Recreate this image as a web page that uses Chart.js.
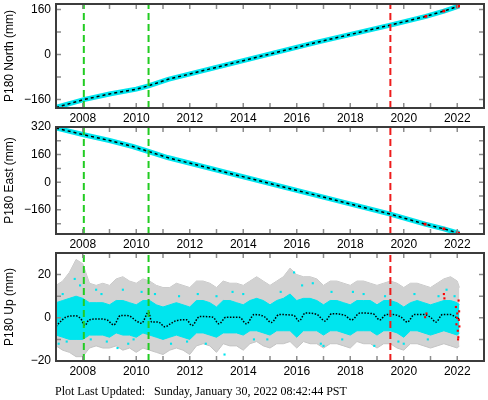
<!DOCTYPE html>
<html>
<head>
<meta charset="utf-8">
<script src="https://cdn.jsdelivr.net/npm/chart.js@4.4.1/dist/chart.umd.min.js"></script>
<style>
  body { margin: 0; background: #fff; width: 488px; height: 400px; position: relative; overflow: hidden; }
  canvas { position: absolute; left: 0; }
  #foot { position: absolute; left: 55px; top: 385px; font: 12px "Liberation Serif", serif; line-height: 13px; white-space: pre; color: #000; }
</style>
</head>
<body>
<canvas id="north" width="488" height="126" style="top:0"></canvas>
<canvas id="east" width="488" height="137" style="top:115px"></canvas>
<canvas id="up" width="488" height="138" style="top:241px"></canvas>
<div id="foot">Plot Last Updated:   Sunday, January 30, 2022 08:42:44 PST</div>
<script>
// x axis (decimal years)
const yearRange = [2007, 2023];
const yearTicks = [2007, 2008, 2009, 2010, 2011, 2012, 2013, 2014, 2015, 2016, 2017, 2018, 2019, 2020, 2021, 2022, 2023];
const greenEvents = [2008.04, 2010.46];
const redEvents = [2019.5];

// North
const northRange = [-190, 180];
const northTicks = [-160, -80, 0, 80, 160];
const northYears = [2007.0, 2008.04, 2009.0, 2010.0, 2010.46, 2011.19, 2016.81, 2019.5, 2020.83, 2021.5, 2022.08];
const northValues = [-188, -160, -140, -123, -111, -88, 45, 105, 136, 155, 173];
const northRedYears = [2020.83, 2021.5, 2022.0, 2022.05];
const northRedValues = [136, 155, 171, 173];

// East
const eastRange = [-300, 320];
const eastTicks = [-240, -160, -80, 0, 80, 160, 240, 320];
const eastYears = [2007.0, 2008.04, 2009.0, 2009.87, 2010.46, 2011.17, 2016.81, 2019.5, 2020.8, 2021.5, 2022.08];
const eastValues = [314, 275, 242, 207, 178, 143, -79, -185, -243, -270, -297];
const eastRedYears = [2020.8, 2021.5, 2022.0, 2022.05];
const eastRedValues = [-243, -270, -293, -296];

// Up
const upRange = [-20, 30];
const upTicks = [-20, -10, 0, 10, 20, 30];
const upYears = [2007.0, 2007.25, 2007.5, 2007.75, 2008.0, 2008.25, 2008.5, 2008.75, 2009.0, 2009.25, 2009.5, 2009.75,
  2010.0, 2010.25, 2010.5, 2010.75, 2011.0, 2011.25, 2011.5, 2011.75, 2012.0, 2012.25, 2012.5, 2012.75,
  2013.0, 2013.25, 2013.5, 2013.75, 2014.0, 2014.25, 2014.5, 2014.75, 2015.0, 2015.25, 2015.5, 2015.75,
  2016.0, 2016.25, 2016.5, 2016.75, 2017.0, 2017.25, 2017.5, 2017.75, 2018.0, 2018.25, 2018.5, 2018.75,
  2019.0, 2019.25, 2019.5, 2019.75, 2020.0, 2020.25, 2020.5, 2020.75, 2021.0, 2021.25, 2021.5, 2021.75,
  2022.0, 2022.08];
const upErrHigh = [15, 17, 21, 27, 25, 16, 15, 16, 15, 18, 19, 17,
  16, 18, 17, 15, 14, 14, 16, 15, 14, 17, 17, 16,
  14, 17, 16, 16, 15, 17, 19, 17, 15, 17, 19, 23,
  20, 19, 19, 18, 15, 17, 17, 16, 15, 17, 17, 16,
  15, 16, 17, 16, 14, 16, 16, 15, 14, 16, 18, 19,
  17, 14];
const upErrLow = [-13, -15, -16, -18, -18, -14, -13, -14, -14, -13, -15, -14,
  -16, -14, -15, -16, -17, -15, -14, -15, -17, -13, -12, -13,
  -16, -12, -13, -13, -15, -12, -11, -13, -14, -12, -12, -11,
  -14, -11, -12, -12, -14, -12, -12, -13, -14, -11, -12, -12,
  -14, -12, -12, -14, -15, -12, -12, -13, -14, -13, -12, -13,
  -14, -13];
const upCyanHigh = [7, 8, 9, 10, 9, 7, 7, 7, 6, 8, 8, 7,
  6, 8, 8, 6, 5, 6, 7, 6, 5, 8, 8, 7,
  5, 8, 8, 7, 6, 8, 9, 8, 6, 8, 9, 11,
  8, 9, 9, 8, 6, 8, 8, 7, 6, 8, 8, 8,
  6, 8, 8, 7, 5, 7, 8, 7, 6, 7, 8, 8,
  7, 6];
const upCyanLow = [-8, -9, -10, -10, -10, -8, -8, -8, -9, -7, -8, -8,
  -9, -7, -8, -9, -10, -9, -8, -9, -10, -7, -7, -8,
  -9, -7, -7, -7, -8, -6, -6, -7, -8, -6, -6, -6,
  -9, -6, -6, -6, -8, -6, -6, -7, -8, -6, -6, -6,
  -8, -6, -6, -7, -9, -6, -6, -7, -8, -7, -6, -7,
  -8, -7];
const upScatterYears = [2007.1, 2007.25, 2007.4, 2007.7, 2007.9, 2008.3, 2008.5, 2008.7, 2008.9, 2009.3, 2009.5, 2009.7,
  2009.9, 2010.2, 2010.7, 2011.3, 2011.6, 2011.9, 2012.3, 2012.6, 2013.0, 2013.3, 2013.6, 2014.0, 2014.4,
  2014.9, 2015.4, 2015.9, 2016.2, 2016.6, 2016.9, 2017.0, 2017.3, 2017.7, 2018.1, 2018.5, 2018.9, 2019.3,
  2019.8, 2020.0, 2020.4, 2020.9, 2021.3, 2021.6, 2021.9];
const upScatterValues = [-12, 11, -11, 18, 15, -10, 13, 11, -11, -14, 13, -12,
  -10, 12, 11, -12, 10, -11, 11, -12, 10, -17, 12, 11, -10,
  -10, 12, 21, 15, 16, -12, -13, 12, -10, 12, 11, -13, 10,
  -11, -12, 11, -10, 10, 13, 10];
const upMeanYears = [2007.0, 2007.15, 2007.37, 2007.74, 2007.93, 2008.08, 2008.23, 2008.6, 2008.91, 2009.16, 2009.41,
  2009.7, 2010.02, 2010.2, 2010.46, 2010.58, 2010.83, 2011.07, 2011.26, 2011.5, 2011.88, 2012.08, 2012.37,
  2012.86, 2013.09, 2013.36, 2013.85, 2014.12, 2014.41, 2014.78, 2015.05, 2015.34, 2015.89, 2016.08, 2016.32,
  2016.76, 2017.06, 2017.31, 2017.8, 2018.05, 2018.36, 2018.85, 2019.1, 2019.35, 2019.6, 2019.9, 2020.13,
  2020.4, 2020.77, 2021.02, 2021.2, 2021.45, 2021.76, 2021.9, 2022.07];
const upMeanValues = [-4, -2, 0.3, 0.9, -0.5, -3.6, -1, -0.5, -1, -3.3, 1.1,
  1, -1.6, -2.5, 2.6, -2, -2, -4.2, -2.9, -1.3, -0.9, -3.6, 0.6,
  0.3, -2.8, 0.3, 0.3, -2.8, 1.5, 0.6, -2.2, 1.5, 1.1, -1.5, 2.2,
  1.5, -1.5, 1.9, 1.1, -1, 2.2, 1.9, -1, 1.5, 1.5, 0.3, -2,
  1.5, 1.5, 0, -2, 1.5, 1.5, 0.6, -0.5];
const upRedYears = [2020.8, 2020.85, 2021.5, 2021.52, 2021.95, 2021.97, 2021.99, 2022.0, 2022.02, 2022.03, 2022.04, 2022.05, 2022.06, 2022.07, 2022.08];
const upRedValues = [0.3, 2, 11, 9, 5, -3, 0, 2, -6, -10, -9, 8, -1, 3, -4];

const CYAN = '#00e5ee';
const FONT = "'Liberation Sans', Arial, sans-serif";

const pts = (xs, ys) => xs.map((x, i) => ({ x, y: ys[i] }));

function eventLines(range) {
  const out = [];
  greenEvents.forEach(t => out.push({ t, c: '#22cc22' }));
  redEvents.forEach(t => out.push({ t, c: '#ee1c1c' }));
  return out.map(e => ({
    data: [{ x: e.t, y: range[0] }, { x: e.t, y: range[1] }],
    borderColor: e.c, borderWidth: 2, borderDash: [7, 4],
    pointRadius: 0, fill: false, order: 0,
  }));
}

// inward tick marks and the frame, gnuplot style
const frame = {
  id: 'frame',
  afterDatasetsDraw(chart) {
    const { ctx, chartArea: a, scales: { x, y } } = chart;
    ctx.save();
    ctx.strokeStyle = '#8c8c8c';
    ctx.lineWidth = 1.5;
    ctx.beginPath();
    x.ticks.forEach(t => {
      const px = x.getPixelForValue(t.value);
      ctx.moveTo(px, a.bottom); ctx.lineTo(px, a.bottom - 5);
      ctx.moveTo(px, a.top); ctx.lineTo(px, a.top + 5);
    });
    y.ticks.forEach(t => {
      const py = y.getPixelForValue(t.value);
      ctx.moveTo(a.left, py); ctx.lineTo(a.left + 5, py);
      ctx.moveTo(a.right, py); ctx.lineTo(a.right - 5, py);
    });
    ctx.stroke();
    ctx.strokeStyle = '#3c3c3c';
    ctx.lineWidth = 2;
    ctx.strokeRect(a.left, a.top, a.width, a.height);
    ctx.restore();
  }
};

function noPad(s) {
  s.paddingTop = 0; s.paddingBottom = 0; s.paddingLeft = 0; s.paddingRight = 0;
}

function makePanel(id, title, range, ticks, labelStep, padTop, datasets) {
  return new Chart(document.getElementById(id), {
    type: 'line',
    data: { datasets },
    plugins: [frame],
    options: {
      responsive: false,
      animation: false,
      layout: { padding: { top: padTop, right: 1, left: 0, bottom: 0 } },
      plugins: { legend: { display: false }, tooltip: { enabled: false } },
      scales: {
        x: {
          type: 'linear', min: yearRange[0], max: yearRange[1],
          afterBuildTicks: s => { s.ticks = yearTicks.map(v => ({ value: v })); },
          afterFit: s => { s.height = 18; noPad(s); },
          grid: { display: false, drawTicks: false },
          border: { display: false },
          ticks: {
            padding: 3, color: '#000', font: { family: FONT, size: 12 },
            maxRotation: 0, autoSkip: false,
            callback: v => (v % 2 === 0 && v > yearRange[0] && v < yearRange[1]) ? String(v) : ''
          }
        },
        y: {
          type: 'linear', min: range[0], max: range[1],
          afterBuildTicks: s => { s.ticks = ticks.map(v => ({ value: v })); },
          afterFit: s => { s.width = 56; noPad(s); },
          grid: { display: false, drawTicks: false },
          border: { display: false },
          title: { display: true, text: title, color: '#000', font: { family: FONT, size: 12 }, padding: { top: 2, bottom: 0 } },
          ticks: {
            padding: 5, color: '#000', font: { family: FONT, size: 12 }, autoSkip: false,
            callback: v => (v % labelStep === 0) ? (v < 0 ? '\u2212' + Math.abs(v) : String(v)) : ''
          }
        }
      }
    }
  });
}

function trendSets(xs, ys, rx, ry, range) {
  return [
    ...eventLines(range),
    { data: pts(rx, ry), showLine: false, pointStyle: 'rect', pointRadius: 2, pointBackgroundColor: '#ff0000', pointBorderWidth: 0, order: 1 },
    { data: pts(xs, ys), borderColor: '#000', borderWidth: 1.5, borderDash: [3, 3], pointRadius: 0, fill: false, order: 2 },
    { data: pts(xs, ys), borderColor: CYAN, borderWidth: 5, pointRadius: 0, fill: false, order: 3 },
  ];
}

makePanel('north', 'P180 North (mm)', northRange, northTicks, 160, 2,
  trendSets(northYears, northValues, northRedYears, northRedValues, northRange));

makePanel('east', 'P180 East (mm)', eastRange, eastTicks, 160, 12,
  trendSets(eastYears, eastValues, eastRedYears, eastRedValues, eastRange));

makePanel('up', 'P180 Up (mm)', upRange, upTicks, 20, 12, [
  { data: pts(upYears, upErrHigh), borderColor: '#c4c4c4', borderWidth: 1, pointRadius: 0, fill: false, order: 9 },
  { data: pts(upYears, upErrLow), borderColor: '#c4c4c4', borderWidth: 1, pointRadius: 0, fill: '-1', backgroundColor: '#d2d2d2', order: 8 },
  { data: pts(upYears, upCyanHigh), borderColor: CYAN, borderWidth: 1, pointRadius: 0, fill: false, order: 7 },
  { data: pts(upYears, upCyanLow), borderColor: CYAN, borderWidth: 1, pointRadius: 0, fill: '-1', backgroundColor: CYAN, order: 6 },
  { data: pts(upScatterYears, upScatterValues), showLine: false, pointStyle: 'rect', pointRadius: 1.5, pointBackgroundColor: CYAN, pointBorderWidth: 0, order: 5 },
  { data: pts(upMeanYears, upMeanValues), borderColor: '#000', borderWidth: 1.5, borderDash: [1.5, 1.5], cubicInterpolationMode: 'monotone', pointRadius: 0, fill: false, order: 2 },
  { data: pts(upRedYears, upRedValues), showLine: false, pointStyle: 'rect', pointRadius: 1.5, pointBackgroundColor: '#ff0000', pointBorderWidth: 0, order: 1 },
  ...eventLines(upRange),
]);
</script>
</body>
</html>
